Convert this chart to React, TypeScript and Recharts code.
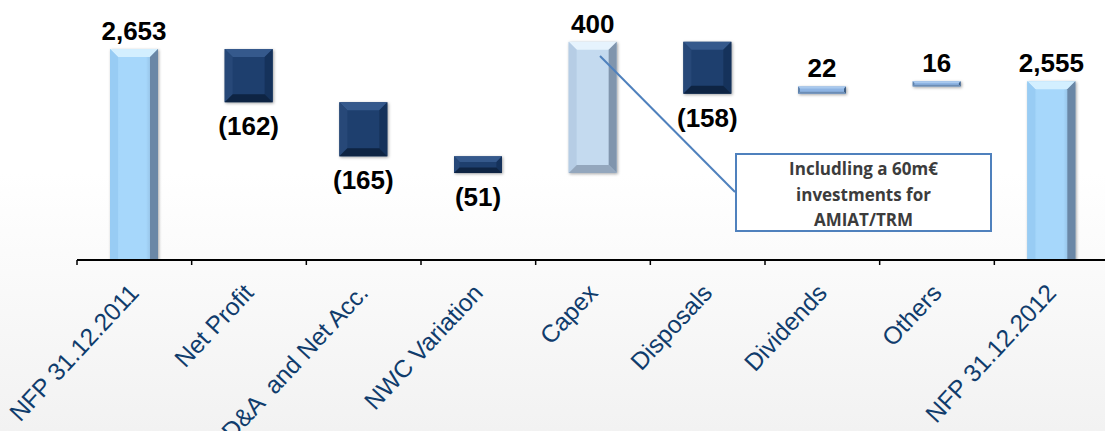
import React from "react";
import { BarChart, Bar, XAxis, YAxis, LabelList } from "recharts";

// NFP bridge 2011 -> 2012 (m€)
const categories = [
  "NFP 31.12.2011",
  "Net Profit",
  "D&A  and Net Acc.",
  "NWC Variation",
  "Capex",
  "Disposals",
  "Dividends",
  "Others",
  "NFP 31.12.2012",
];
const amounts = [2653, -162, -165, -51, 400, -158, 22, 16, 2555];
const isTotal = [true, false, false, false, false, false, false, false, true];
const valueLabels = ["2,653", "(162)", "(165)", "(51)", "400", "(158)", "22", "16", "2,555"];

const noteLines = ["Includling a 60m€", "investments for", "AMIAT/TRM"];

type Bevel = { body: string; top: string; left: string; right: string; bottom: string; b: number };

const TOTAL: Bevel = { body: "url(#totalBody)", top: "#d3efff", left: "#98ccf4", right: "#6a87a6", bottom: "#7d9cbc", b: 8 };
const NAVY: Bevel = { body: "#1e3f6e", top: "#35598c", left: "#274878", right: "#15325b", bottom: "#0e2443", b: 8 };
const PALE: Bevel = { body: "#c4daef", top: "#e6f3fd", left: "#b6cde5", right: "#8095ad", bottom: "#94a7bd", b: 8 };
const THIN: Bevel = { body: "#8eb4e3", top: "#a9c9ee", left: "#5f83ad", right: "#3f5f85", bottom: "#6c8db5", b: 2 };

const styleFor: Record<string, Bevel> = {
  "NFP 31.12.2011": TOTAL,
  "Net Profit": NAVY,
  "D&A  and Net Acc.": NAVY,
  "NWC Variation": NAVY,
  Capex: PALE,
  Disposals: NAVY,
  Dividends: THIN,
  Others: THIN,
  "NFP 31.12.2012": TOTAL,
};

let running = 0;
const data = categories.map((name, i) => {
  let range: [number, number];
  if (isTotal[i]) {
    range = [0, amounts[i]];
    running = amounts[i];
  } else {
    const next = running + amounts[i];
    range = [Math.min(running, next), Math.max(running, next)];
    running = next;
  }
  return { name, range, label: valueLabels[i], up: isTotal[i] || amounts[i] > 0 };
});

const AXIS_Y = 260;

const BevelBar = (props: any) => {
  const { x, width, payload } = props;
  const y = Math.min(props.y, props.y + props.height);
  const h = Math.abs(props.height);
  const s = styleFor[payload.name] || NAVY;
  const b = Math.min(s.b, h / 3, width / 4);
  const x2 = x + width;
  const y2 = y + h;
  return (
    <g style={{ filter: "drop-shadow(1px 1px 1.5px rgba(0,0,0,0.35))" }}>
      <rect x={x} y={y} width={width} height={h} fill={s.body} />
      <polygon points={`${x},${y} ${x2},${y} ${x2 - b},${y + b} ${x + b},${y + b}`} fill={s.top} />
      <polygon points={`${x},${y} ${x + b},${y + b} ${x + b},${y2 - b} ${x},${y2}`} fill={s.left} />
      <polygon points={`${x2},${y} ${x2},${y2} ${x2 - b},${y2 - b} ${x2 - b},${y + b}`} fill={s.right} />
      <polygon points={`${x},${y2} ${x2},${y2} ${x2 - b},${y2 - b} ${x + b},${y2 - b}`} fill={s.bottom} />
    </g>
  );
};

const ValueLabel = (props: any) => {
  const { x, width, index, value } = props;
  const top = Math.min(props.y, props.y + props.height);
  const bottom = Math.max(props.y, props.y + props.height);
  const d = data[index];
  const ty = d.up ? top - 9 : bottom + 33;
  return (
    <text
      x={x + width / 2}
      y={ty}
      textAnchor="middle"
      fontFamily="Liberation Sans, Arial, sans-serif"
      fontWeight={700}
      fontSize={26}
      fill="#000"
    >
      {value}
    </text>
  );
};

const CategoryTick = (props: any) => {
  const { x, payload } = props;
  const half = payload.offset ?? 57.3;
  const ax = x + 6;
  const ay = AXIS_Y + 34;
  return (
    <g>
      <line x1={x - half} y1={AXIS_Y} x2={x - half} y2={AXIS_Y + 5} stroke="#000" strokeWidth={1.5} />
      <text
        x={ax}
        y={ay}
        textAnchor="end"
        transform={`rotate(-47 ${ax} ${ay})`}
        fontFamily="Liberation Sans, Arial, sans-serif"
        fontSize={24.5}
        fill="#103c6c"
        style={{ whiteSpace: "pre" }}
      >
        {payload.value}
      </text>
    </g>
  );
};

export default function App() {
  return (
    <div
      style={{
        position: "absolute",
        left: 0,
        top: 0,
        width: 1105,
        height: 431,
        overflow: "hidden",
        background: "linear-gradient(to bottom, #ffffff 0%, #ffffff 40%, #f2f2f2 100%)",
      }}
    >
      <BarChart
        width={1120}
        height={431}
        data={data}
        margin={{ top: 10, right: 11, bottom: 11, left: 77 }}
        barSize={48}
      >
        <defs>
          <linearGradient id="totalBody" x1="0" y1="0" x2="1" y2="0">
            <stop offset="0%" stopColor="#93c9f1" />
            <stop offset="20%" stopColor="#a6d7fb" />
            <stop offset="75%" stopColor="#a6d7fb" />
            <stop offset="100%" stopColor="#7fa5c8" />
          </linearGradient>
        </defs>
        <XAxis
          dataKey="name"
          interval={0}
          height={160}
          tickLine={false}
          axisLine={{ stroke: "#000", strokeWidth: 2 }}
          tick={<CategoryTick />}
        />
        <YAxis hide domain={[2010, 2772]} allowDataOverflow />
        <Bar dataKey="range" shape={<BevelBar />} isAnimationActive={false}>
          <LabelList dataKey="label" content={<ValueLabel />} />
        </Bar>
      </BarChart>
      <svg
        width={1105}
        height={431}
        style={{ position: "absolute", left: 0, top: 0, pointerEvents: "none" }}
      >
        <line x1={600} y1={56} x2={735} y2={192} stroke="#4f81bd" strokeWidth={2} />
      </svg>
      <div
        style={{
          position: "absolute",
          left: 735,
          top: 153,
          width: 257,
          height: 79,
          boxSizing: "border-box",
          border: "2px solid #4f81bd",
          background: "#fff",
          paddingTop: 1,
          textAlign: "center",
          fontFamily: "Open Sans, sans-serif",
          fontWeight: 700,
          fontSize: 17,
          lineHeight: "25.5px",
          color: "#3c3c3c",
        }}
      >
        {noteLines.map((l) => (
          <div key={l}>{l}</div>
        ))}
      </div>
    </div>
  );
}
